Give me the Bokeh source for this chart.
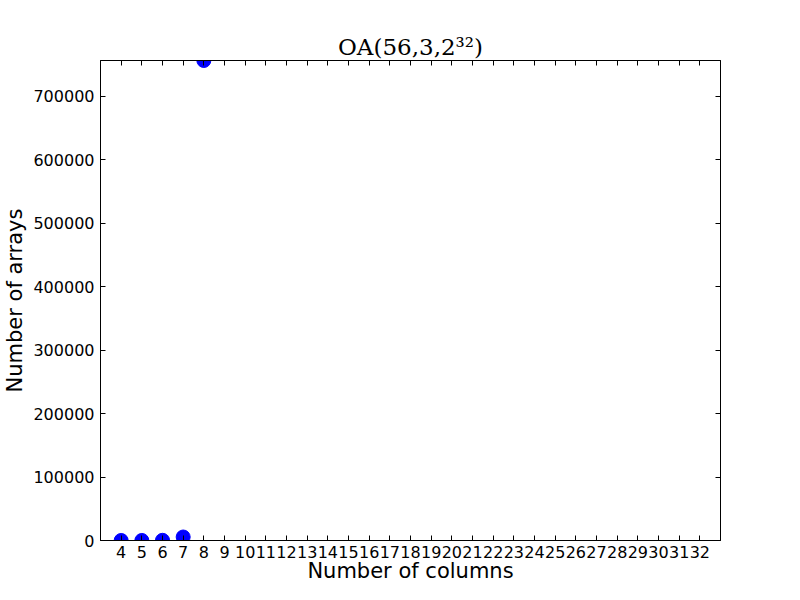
from bokeh.plotting import figure
from bokeh.models import LinearAxis, FixedTicker, Range1d, Title
from bokeh.embed import file_html
from bokeh.resources import INLINE

columns = [4, 5, 6, 7, 8]
arrays = [60, 80, 300, 5500, 756000]
x_ticks = list(range(4, 33))
y_ticks = [0, 100000, 200000, 300000, 400000, 500000, 600000, 700000]

p = figure(width=800, height=600, output_backend="svg", toolbar_location=None,
           x_range=Range1d(3, 33), y_range=Range1d(0, 756000),
           min_border_left=100, min_border_right=80, min_border_top=60, min_border_bottom=60)
p.title = Title(text="OA(56,3,2³²)", align="center", text_font="DejaVu Serif",
                text_font_size="23px", text_font_style="normal", text_color="black",
                standoff=2)
p.grid.visible = False
p.outline_line_color = "black"
p.outline_line_width = 1
p.background_fill_color = "white"
p.border_fill_color = "white"

p.xaxis.axis_label = "Number of columns"
p.yaxis.axis_label = "Number of arrays"

def style(ax):
    ax.major_tick_in = 5
    ax.major_tick_out = 0
    ax.minor_tick_in = 0
    ax.minor_tick_out = 0
    ax.axis_line_color = "black"
    ax.major_tick_line_color = "black"
    ax.major_label_text_font = "DejaVu Sans"
    ax.major_label_text_font_size = "16px"
    ax.major_label_text_color = "black"
    ax.axis_label_text_font = "DejaVu Sans"
    ax.axis_label_text_font_size = "21px"
    ax.axis_label_text_font_style = "normal"
    ax.axis_label_text_color = "black"
    ax.major_label_standoff = 6
    ax.axis_label_standoff = 4

for ax in p.xaxis:
    ax.ticker = FixedTicker(ticks=x_ticks)
    ax.major_label_overrides = {t: str(t) for t in x_ticks}
    style(ax)
    ax.major_label_standoff = 5
    ax.axis_label_standoff = -2
for ax in p.yaxis:
    ax.ticker = FixedTicker(ticks=y_ticks)
    ax.major_label_overrides = {t: str(t) for t in y_ticks}
    style(ax)
    ax.axis_label_standoff = 3

right = LinearAxis(ticker=FixedTicker(ticks=y_ticks),
                   major_label_overrides={t: "" for t in y_ticks})
style(right)
p.add_layout(right, "right")
top = LinearAxis(ticker=FixedTicker(ticks=x_ticks),
                 major_label_overrides={t: "" for t in x_ticks})
style(top)
p.add_layout(top, "above")

p.scatter(columns, arrays, size=14, fill_color="blue", line_color="blue")

open("out.html", "w").write(file_html(p, INLINE))
